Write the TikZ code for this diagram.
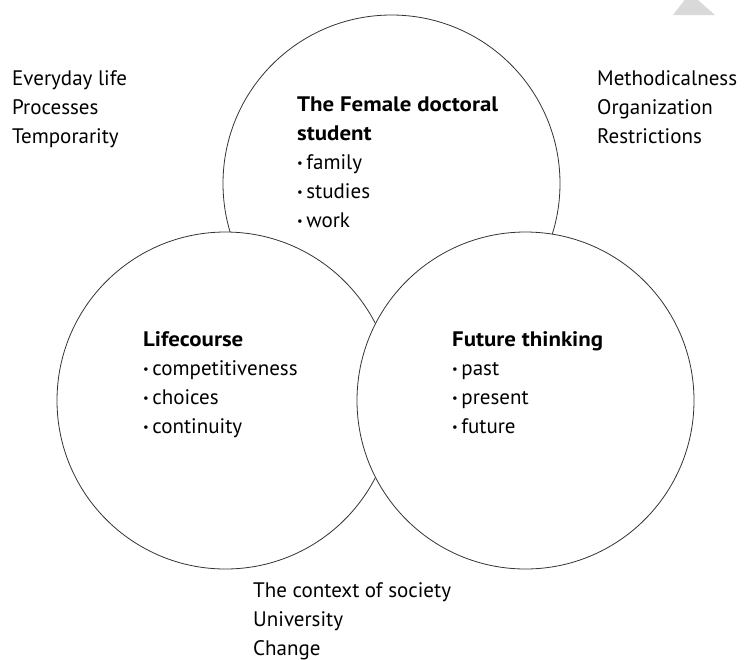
\documentclass[tikz,border=0pt]{standalone}
\usepackage{graphicx}
\usepackage{fontspec}
\setmainfont{PT Sans}[BoldFeatures={FakeStretch=1.09}]
\newcommand\bul{\raisebox{1.5pt}{\scalebox{0.6}{•}}\hspace{3.5pt}}
\begin{document}
\begin{tikzpicture}[x=1pt,y=-1pt,
  circ/.style={draw=black!80,fill=white,line width=0.8pt},
  txt/.style={anchor=base west,inner sep=0pt,font=\fontsize{21}{29}\selectfont},
]
\useasboundingbox (0,0) rectangle (744,659);
\fill[black!15] (673,15) -- (690,-7) -- (715,15) -- cycle;
\path[circ] (391.5,183.5) circle (168.5);
\path[circ] (225.5,400.5) circle (168.5);
\path[circ] (525.5,400.5) circle (168.5);
\node[txt] (tl) at (12,85) {\vtop{\baselineskip=29pt\hbox{Everyday life}\hbox{Processes}\hbox{Temporarity}}};
\node[txt] (tr) at (597,85) {\vtop{\baselineskip=29pt\hbox{Methodicalness}\hbox{Organization}\hbox{Restrictions}}};
\node[txt] (bt) at (253,597) {\vtop{\baselineskip=29pt\hbox{The context of society}\hbox{University}\hbox{Change}}};
\node[txt] (fem) at (297,111) {\vtop{\baselineskip=29pt\hbox{\bfseries The Female doctoral}\hbox{\bfseries student}\hbox{\bul family}\hbox{\bul studies}\hbox{\bul work}}};
\node[txt] (life) at (143,346) {\vtop{\baselineskip=29pt\hbox{\bfseries Lifecourse}\hbox{\bul competitiveness}\hbox{\bul choices}\hbox{\bul continuity}}};
\node[txt] (fut) at (452,346) {\vtop{\baselineskip=29pt\hbox{\bfseries Future thinking}\hbox{\bul past}\hbox{\bul present}\hbox{\bul future}}};
\end{tikzpicture}
\end{document}
